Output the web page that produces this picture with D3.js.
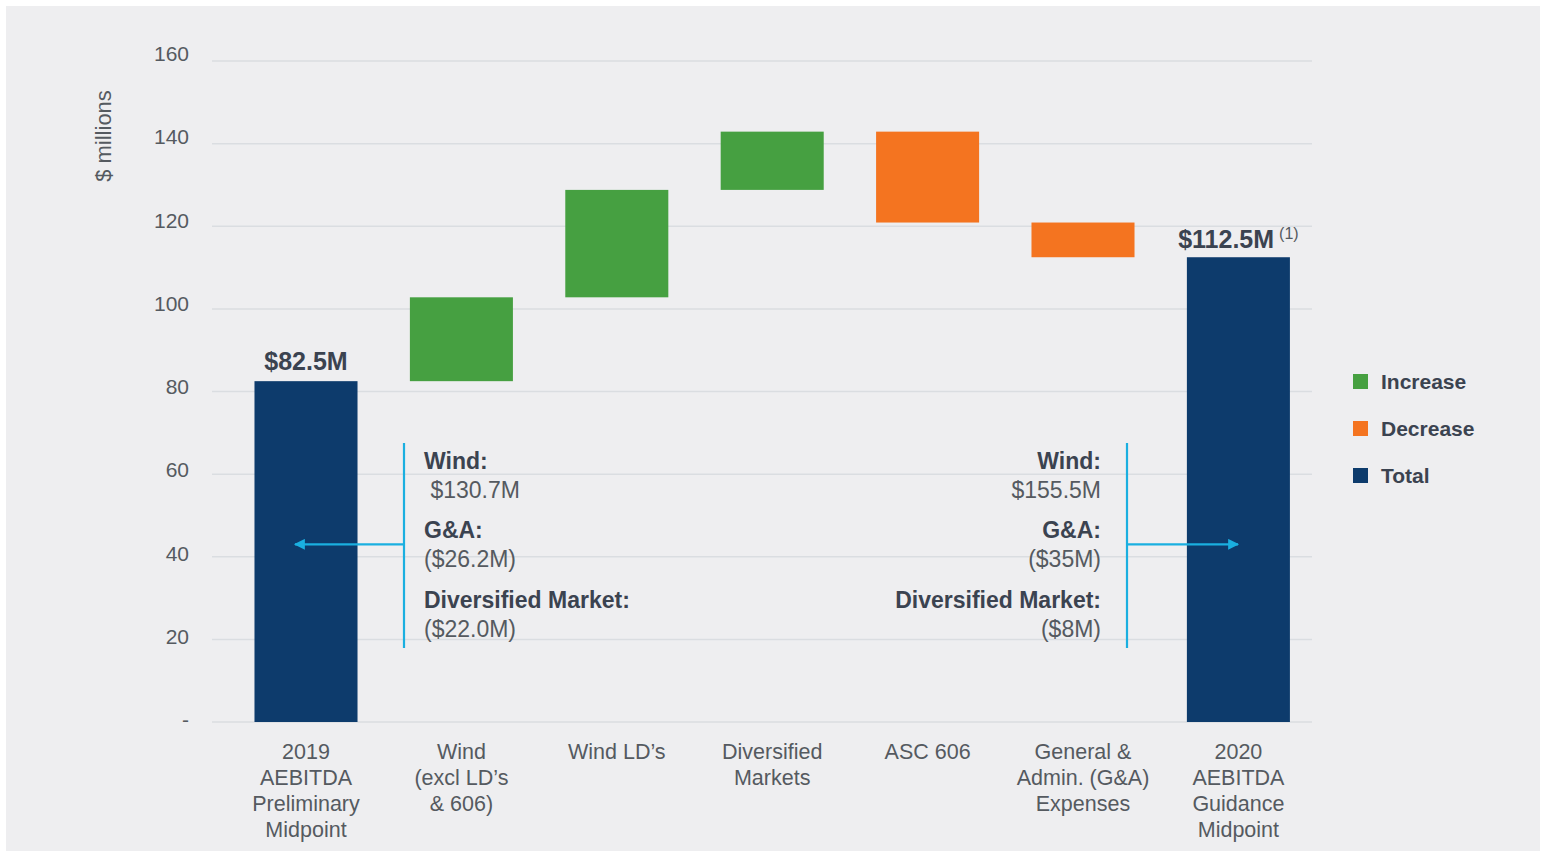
<!DOCTYPE html>
<html><head><meta charset="utf-8">
<script src="https://cdn.jsdelivr.net/npm/d3@7"></script>
<style>
html,body{margin:0;padding:0;background:#fff;}
text{font-family:"Liberation Sans",Arial,Helvetica,sans-serif;}
</style></head>
<body>
<svg id="c" width="1546" height="854"></svg>
<script>
const categories = [
  ["2019","AEBITDA","Preliminary","Midpoint"],
  ["Wind","(excl LD’s","& 606)"],
  ["Wind LD’s"],
  ["Diversified","Markets"],
  ["ASC 606"],
  ["General &","Admin. (G&A)","Expenses"],
  ["2020","AEBITDA","Guidance","Midpoint"]
];
const values = [82.5, 20.3, 26.0, 14.1, -22.0, -8.4, 112.5];
const kinds = ["Total","Increase","Increase","Increase","Decrease","Decrease","Total"];
const yTicks = [0,20,40,60,80,100,120,140,160];
const yTickLabels = ["-","20","40","60","80","100","120","140","160"];
const legendItems = ["Increase","Decrease","Total"];
const colors = {Increase:"#46a041", Decrease:"#f47420", Total:"#0d3b6c"};
const leftNote = [["Wind:",true],[" $130.7M",false],["G&A:",true],["($26.2M)",false],["Diversified Market:",true],["($22.0M)",false]];
const rightNote = [["Wind:",true],["$155.5M",false],["G&A:",true],["($35M)",false],["Diversified Market:",true],["($8M)",false]];

const svg = d3.select("#c");
svg.append("rect").attr("x",6).attr("y",6).attr("width",1534).attr("height",845).attr("fill","#eeeef0");

const y = d3.scaleLinear().domain([0,160]).range([722,61]);
const yLab = d3.scaleLinear().domain([0,160]).range([720,54]);
const x = d3.scaleBand().domain(d3.range(categories.length)).range([228.3,1316.1]).paddingInner(0.337).paddingOuter(0.1685);

// gridlines
svg.append("g").selectAll("line").data(yTicks).join("line")
  .attr("x1",212).attr("x2",1312).attr("y1",d=>y(d)).attr("y2",d=>y(d))
  .attr("stroke","#dadde1").attr("stroke-width",1.5);

// y axis labels
const yAxis = d3.axisLeft(yLab).tickValues(yTicks).tickFormat((d,i)=>yTickLabels[i]).tickSize(0).tickPadding(0);
const ya = svg.append("g").attr("transform","translate(189,0)").call(yAxis);
ya.select(".domain").remove();
ya.selectAll("text").attr("font-size",21).attr("fill","#555a60").attr("font-family","Liberation Sans, Arial, sans-serif");

svg.append("text").attr("transform","translate(111,136) rotate(-90)").attr("text-anchor","middle")
  .attr("font-size",22).attr("fill","#555a60").text("$ millions");

// waterfall
let run = 0;
const bars = values.map((v,i)=>{
  let lo, hi;
  if (kinds[i]==="Total"){ lo=0; hi=v; run=v; }
  else { const s=run; run=run+v; lo=Math.min(s,run); hi=Math.max(s,run); }
  return {i, lo, hi, kind:kinds[i], v};
});
svg.append("g").selectAll("rect").data(bars).join("rect")
  .attr("x",d=>x(d.i)).attr("width",x.bandwidth())
  .attr("y",d=>y(d.hi)).attr("height",d=>y(d.lo)-y(d.hi))
  .attr("fill",d=>colors[d.kind]);

// total labels
svg.append("text").attr("x",x(0)+x.bandwidth()/2).attr("y",y(values[0])-11).attr("text-anchor","middle")
  .attr("font-size",25).attr("font-weight","bold").attr("fill","#3b4350").text("$82.5M");
const t2 = svg.append("text").attr("x",x(6)+x.bandwidth()/2).attr("y",y(values[6])-9).attr("text-anchor","middle")
  .attr("font-size",25).attr("font-weight","bold").attr("fill","#3b4350");
t2.append("tspan").text("$112.5M");
t2.append("tspan").attr("font-size",16).attr("font-weight","normal").attr("fill","#555a60").attr("dx",5).attr("dy",-9).text("(1)");

// category labels
const cat = svg.append("g");
categories.forEach((lines,i)=>{
  const t = cat.append("text").attr("text-anchor","middle").attr("font-size",21.5).attr("fill","#555a60");
  lines.forEach((l,j)=>{
    t.append("tspan").attr("x",x(i)+x.bandwidth()/2).attr("y",759+j*26).text(l);
  });
});

// annotations
svg.append("defs").append("marker").attr("id","ah").attr("viewBox","0 0 10 10").attr("refX",9).attr("refY",5)
  .attr("markerWidth",6).attr("markerHeight",5).attr("orient","auto-start-reverse")
  .append("path").attr("d","M0,0 L10,5 L0,10 z").attr("fill","#1aafe0");
const ann = svg.append("g").attr("stroke","#1aafe0").attr("stroke-width",2.2).attr("fill","none");
ann.append("line").attr("x1",404).attr("x2",404).attr("y1",443).attr("y2",648);
ann.append("line").attr("x1",404).attr("x2",295).attr("y1",y(43)).attr("y2",y(43)).attr("marker-end","url(#ah)");
ann.append("line").attr("x1",1127).attr("x2",1127).attr("y1",443).attr("y2",648);
ann.append("line").attr("x1",1127).attr("x2",1238).attr("y1",y(43)).attr("y2",y(43)).attr("marker-end","url(#ah)");

const noteYs = [469,498,538,567,608,637];
const ln = svg.append("text").attr("font-size",23);
leftNote.forEach((d,j)=>{
  ln.append("tspan").attr("x",424).attr("y",noteYs[j]).attr("font-weight",d[1]?"bold":"normal")
    .attr("fill",d[1]?"#3b4350":"#555a60").style("white-space","pre").text(d[0]);
});
const rn = svg.append("text").attr("font-size",23).attr("text-anchor","end");
rightNote.forEach((d,j)=>{
  rn.append("tspan").attr("x",1101).attr("y",noteYs[j]).attr("font-weight",d[1]?"bold":"normal")
    .attr("fill",d[1]?"#3b4350":"#555a60").text(d[0]);
});

// legend
const lg = svg.append("g").attr("transform","translate(1353,374)");
legendItems.forEach((k,i)=>{
  lg.append("rect").attr("x",0).attr("y",i*47).attr("width",15).attr("height",15).attr("fill",colors[k]);
  lg.append("text").attr("x",28).attr("y",i*47+15).attr("font-size",21).attr("font-weight","bold").attr("fill","#3b4350").text(k);
});
</script>
</body></html>
